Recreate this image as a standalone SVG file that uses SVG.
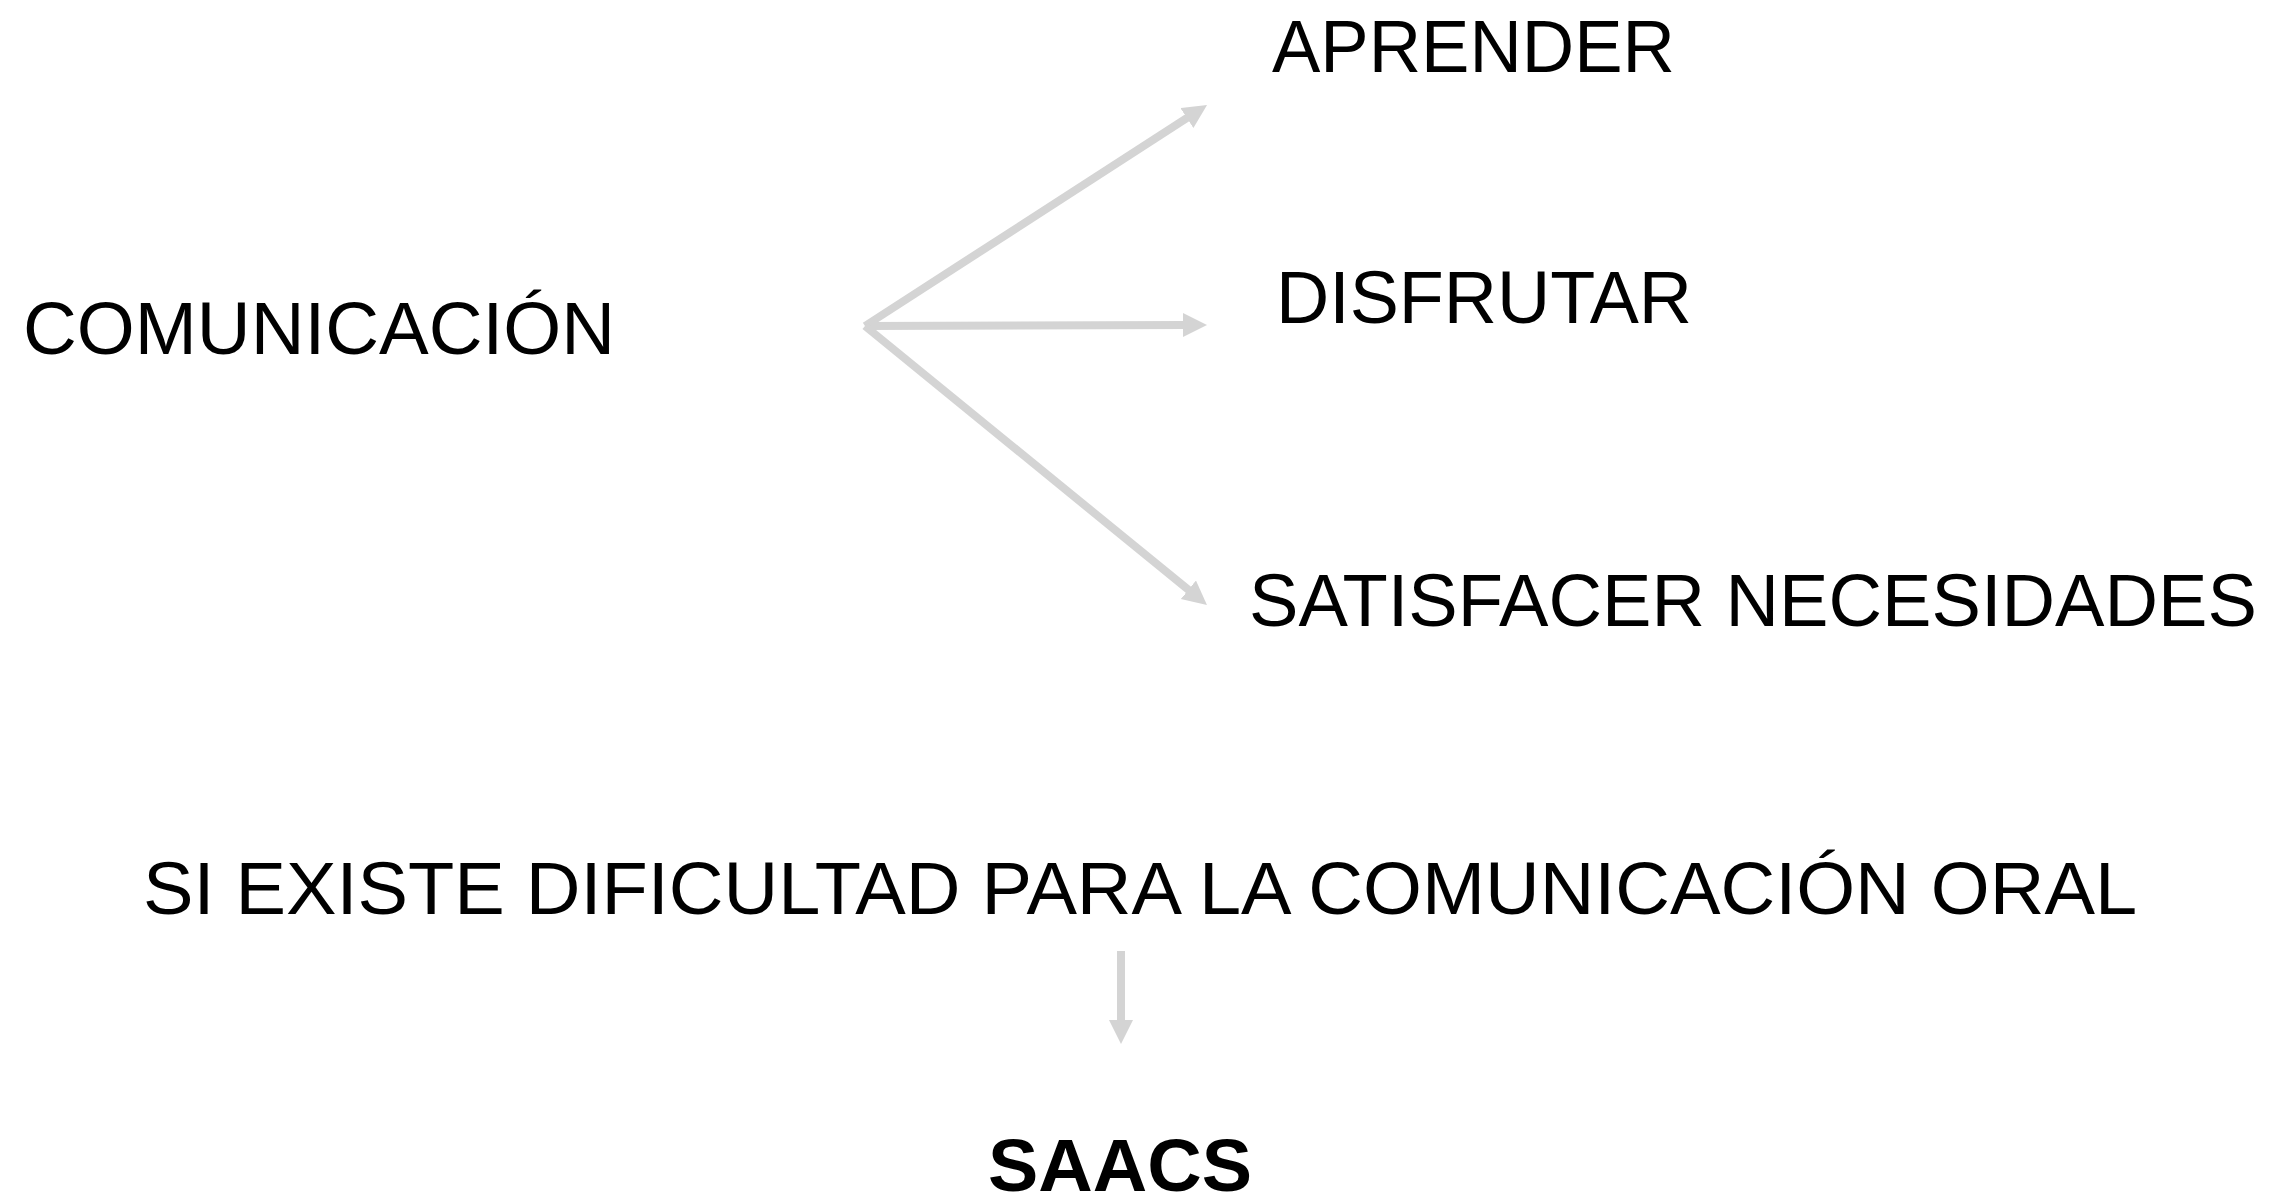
<svg xmlns="http://www.w3.org/2000/svg" width="2291" height="1195" viewBox="0 0 2291 1195">
<style>
  .t { font-family: "Liberation Sans", Arial, sans-serif; font-size: 75px; fill: #000; }
  .b { font-weight: bold; }
  .c { stroke: #d4d4d4; stroke-width: 8; fill: none; marker-end: url(#ah); }
</style>
<defs>
  <marker id="ah" markerUnits="userSpaceOnUse" markerWidth="25" markerHeight="25" refX="3" refY="12" orient="auto" viewBox="0 0 25 25">
    <path d="M0,0 L24,12 L0,24 z" fill="#d4d4d4"/>
  </marker>
</defs>
<rect width="2291" height="1195" fill="#fff"/>
<g id="connectors">
  <line class="c" x1="865" y1="326" x2="1189.4" y2="116.4"/>
  <line class="c" x1="865" y1="326" x2="1186" y2="325"/>
  <line class="c" x1="865" y1="326" x2="1190.7" y2="591.7"/>
  <line class="c" x1="1121" y1="951" x2="1121" y2="1023"/>
</g>
<g id="comunicacion"><text class="t" x="23" y="354" textLength="592" lengthAdjust="spacingAndGlyphs">COMUNICACIÓN</text></g>
<g id="aprender"><text class="t" x="1272" y="72" textLength="403" lengthAdjust="spacingAndGlyphs">APRENDER</text></g>
<g id="disfrutar"><text class="t" x="1276" y="323" textLength="416" lengthAdjust="spacingAndGlyphs">DISFRUTAR</text></g>
<g id="satisfacer"><text class="t" x="1249" y="626" textLength="1008" lengthAdjust="spacingAndGlyphs">SATISFACER NECESIDADES</text></g>
<g id="dificultad"><text class="t" x="143" y="914" textLength="1994" lengthAdjust="spacingAndGlyphs">SI EXISTE DIFICULTAD PARA LA COMUNICACIÓN ORAL</text></g>
<g id="saacs"><text class="t b" x="988" y="1191" textLength="264" lengthAdjust="spacingAndGlyphs">SAACS</text></g>
</svg>
